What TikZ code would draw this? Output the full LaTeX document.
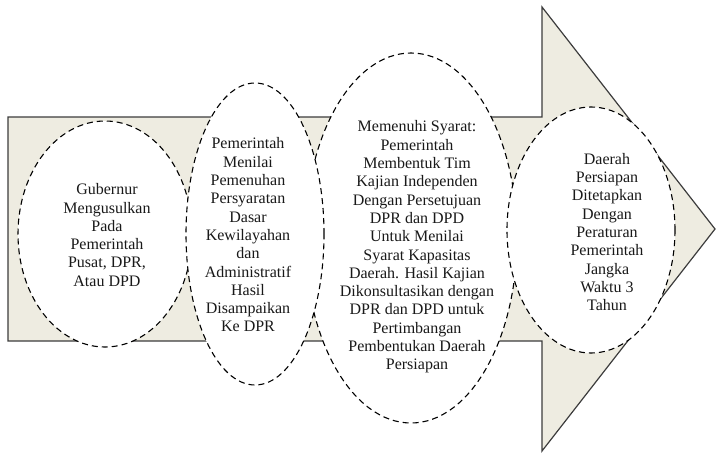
\documentclass[tikz,border=0pt]{standalone}
\usepackage{fontspec}
\setmainfont{Liberation Serif}
\usetikzlibrary{shapes.geometric}
\definecolor{arrowfill}{RGB}{238,236,225}
\definecolor{arrowline}{RGB}{60,60,60}

\begin{document}
\begin{tikzpicture}[x=1pt,y=-1pt,
  stage/.style={ellipse,draw=black,fill=white,dash pattern=on 6pt off 4pt,line width=1.1pt,inner sep=0pt},
  stagetext/.style={align=center,text=black!90,font=\fontsize{16}{18.3}\selectfont,inner sep=0pt}]
  \useasboundingbox (0,0) rectangle (716,453);
  % big arrow
  \draw[arrowline,fill=arrowfill,line width=1.2pt] (8,117) -- (542,117) -- (542,7) -- (715,229) -- (542,451) -- (542,341) -- (8,341) -- cycle;
  % stages
  \node[stage,minimum width=174pt,minimum height=226pt] (e1) at (105,234) {};
  \node[stage,minimum width=212pt,minimum height=370pt] (e3) at (411,238) {};
  \node[stage,minimum width=138pt,minimum height=302pt] (e2) at (255,234) {};
  \node[stage,minimum width=168pt,minimum height=246pt] (e4) at (591,230) {};
  % texts
  \node[stagetext] (t1) at (107,235) {Gubernur\\Mengusulkan\\Pada\\Pemerintah\\Pusat, DPR,\\Atau DPD};
  \node[stagetext] (t2) at (248,235) {Pemerintah\\Menilai\\Pemenuhan\\Persyaratan\\Dasar\\Kewilayahan\\dan\\Administratif\\Hasil\\Disampaikan\\Ke DPR};
  \node[stagetext] (t3) at (417,247) {Memenuhi Syarat:\\Pemerintah\\Membentuk Tim\\Kajian Independen\\Dengan Persetujuan\\DPR dan DPD\\Untuk Menilai\\Syarat Kapasitas\\Daerah. Hasil Kajian\\Dikonsultasikan dengan\\DPR dan DPD untuk\\Pertimbangan\\Pembentukan Daerah\\Persiapan};
  \node[stagetext] (t4) at (607,232) {Daerah\\Persiapan\\Ditetapkan\\Dengan\\Peraturan\\Pemerintah\\Jangka\\Waktu 3\\Tahun};
\end{tikzpicture}
\end{document}
